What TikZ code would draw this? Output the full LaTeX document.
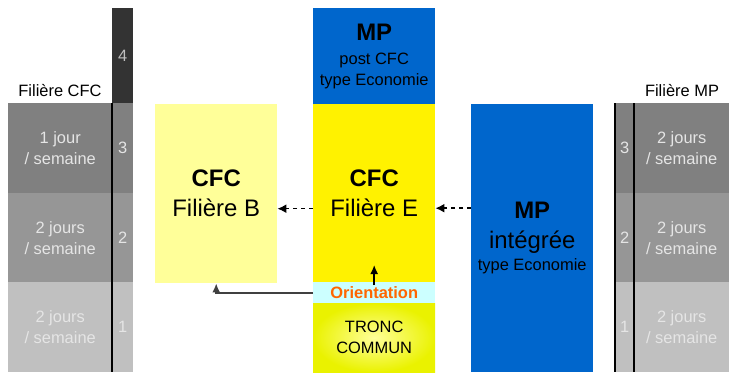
\documentclass[tikz,border=0pt]{standalone}
\usepackage{fontspec}
\setmainfont{Liberation Sans}
\usetikzlibrary{arrows.meta}
\definecolor{mpblue}{HTML}{0066CC}
\definecolor{palecfc}{HTML}{FFFF99}
\definecolor{orcyan}{HTML}{CCFFFF}
\definecolor{ororange}{HTML}{FF6600}
\definecolor{yearfour}{HTML}{333333}
\definecolor{yearthree}{HTML}{808080}
\definecolor{yeartwo}{HTML}{969696}
\definecolor{yearone}{HTML}{C0C0C0}
\definecolor{troncedge}{HTML}{EAF200}
\newcommand{\bigf}{\fontsize{24}{30}\selectfont}
\newcommand{\smallf}{\fontsize{16.5}{21}\selectfont}

\begin{document}
\begin{tikzpicture}[x=1bp, y=-1bp,
    box/.style={anchor=north west, inner sep=0pt, align=center, font=\bigf},
    year/.style={box, font=\smallf, text=white!90!black, minimum height=90bp},
    dasharrow/.style={dash pattern=on 4bp off 4bp, line width=1.5bp, -{Latex[length=9bp,width=9bp]}},
    solarrow/.style={line width=1.8bp, black!75, -{Latex[length=9bp,width=8bp]}},
    sep/.style={line width=2bp}]
\useasboundingbox (0,0) rectangle (729,372);
\foreach \n/\y/\c/\txt in {3/103/yearthree/{1 jour\\/ semaine}, 2/193/yeartwo/{2 jours\\/ semaine}, 1/282/yearone/{2 jours\\/ semaine}}{
    \node[year, fill=\c, minimum width=104bp] (cfc\n) at (8,\y) {\txt};
    \node[year, fill=\c, minimum width=21bp] (cfcn\n) at (112,\y) {\n};
    \node[year, fill=\c, minimum width=95bp] (mp\n) at (634,\y) {2 jours\\/ semaine};
    \node[year, fill=\c, minimum width=19bp] (mpn\n) at (615,\y) {\n};
}
\node[year, fill=yearfour, text=white!75!black, minimum width=21bp, minimum height=95bp] (cfcn4) at (112,8) {4};
\node[font=\smallf] (cfclabel) at (60,91) {Filière CFC};
\node[font=\smallf] (mplabel) at (682,91) {Filière MP};
\draw[sep] (cfcn3.north west) -- (cfcn1.south west);
\draw[sep] (mpn3.north west) -- (mpn1.south west);
\draw[sep] (mpn3.north east) -- (mpn1.south east);

\node[box, fill=palecfc, minimum width=122bp, minimum height=179bp] (fb) at (155,104) {\textbf{CFC}\\Filière B};
\node[box, fill=mpblue, minimum width=122bp, minimum height=96bp, font=\smallf] (mppost) at (313,8) {\bigf\bfseries MP\\[3bp]post CFC\\type Economie};
\node[box, fill=yellow, minimum width=122bp, minimum height=178bp] (fe) at (313,104) {\textbf{CFC}\\Filière E};
\node[box, fill=orcyan, minimum width=122bp, minimum height=21bp, font=\smallf\bfseries, text=ororange] (or) at (313,282) {Orientation};
\node[box, shading=radial, inner color=yellow!40, outer color=troncedge, minimum width=122bp, minimum height=69bp, font=\smallf] (tc) at (313,303) {TRONC\\COMMUN};
\node[box, fill=mpblue, minimum width=122bp, minimum height=268bp] (mpi) at (471,104) {\textbf{MP}\\intégrée\\[-8bp]\smallf type Economie};

\coordinate (fe-line) at ([yshift=-15bp]fe.east);
\coordinate (fb-line) at ([yshift=-15bp]fb.east);
\coordinate (or-top) at ([yshift=17bp]or.north);
\draw[dasharrow] (fe-line -| mpi.west) -- (fe-line);
\draw[dasharrow] (fb-line -| fe.west) -- (fb-line);
\draw[solarrow] (or.west) -| (fb.south);
\draw[line width=1.5bp, -{Latex[length=9bp,width=8bp]}] ([yshift=-3bp]or.north) -- (or-top);
\end{tikzpicture}
\end{document}
